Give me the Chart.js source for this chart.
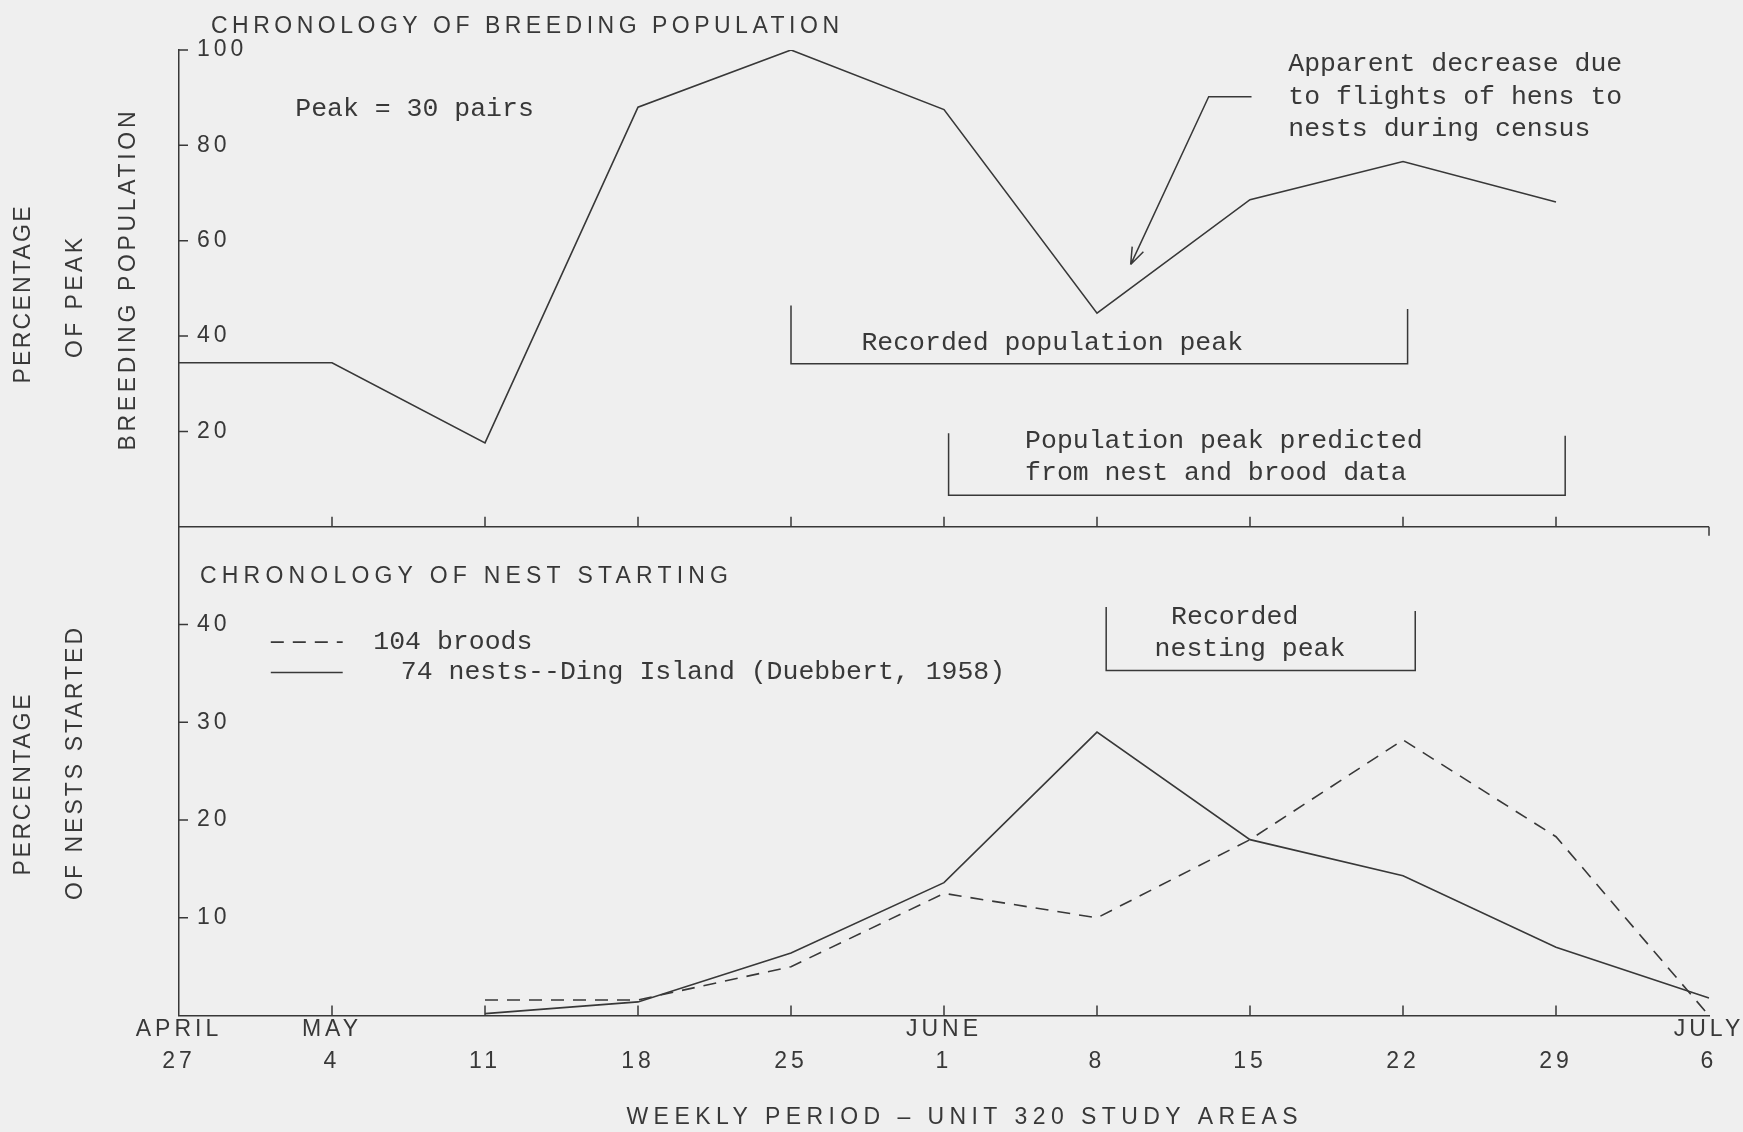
<!DOCTYPE html>
<html>
<head>
<meta charset="utf-8">
<script src="https://cdn.jsdelivr.net/npm/chart.js@4.4.1/dist/chart.umd.min.js"></script>
<style>
  html, body { margin: 0; padding: 0; background: #efefef; }
  canvas { display: block; }
</style>
</head>
<body>
<canvas id="chart" width="1743" height="1132"></canvas>
<script>
// weekly periods, april 27 .. july 6
const weekLabels = [['APRIL', '27'], ['MAY', '4'], ['', '11'], ['', '18'], ['', '25'], ['JUNE', '1'],
    ['', '8'], ['', '15'], ['', '22'], ['', '29'], ['JULY', '6']];

// top panel: percentage of peak breeding population
const breedingPct = [34.4, 34.4, 17.6, 88, 100, 87.5, 44.8, 68.6, 76.6, 68.1, null];

// bottom panel: percentage of nests started
const broodsPct = [null, null, 1.6, 1.6, 5, 12.5, 10, 18, 28.2, 18.3, 0];
const nestsPct = [null, null, 0.2, 1.4, 6.4, 13.6, 29, 18, 14.3, 7, 1.8];

const topTicks = [20, 40, 60, 80, 100];
const bottomTicks = [10, 20, 30, 40];

const INK = '#383838';
const LETTER = '"Liberation Sans", Arial, sans-serif';
const TYPE = '"Liberation Mono", "DejaVu Sans Mono", monospace';

// lettering spread out to a given width, centred on x,y
function spaced(ctx, text, cx, cy, width, size, rotate) {
    ctx.save();
    ctx.font = size + 'px ' + LETTER;
    ctx.letterSpacing = '0px';
    const w = ctx.measureText(text).width;
    ctx.letterSpacing = ((width - w) / (text.length - 1)) + 'px';
    ctx.translate(cx, cy);
    if (rotate) ctx.rotate(-Math.PI / 2);
    ctx.textAlign = 'left';
    ctx.textBaseline = 'middle';
    ctx.fillText(text, -width / 2, 0);
    ctx.restore();
}

function typed(ctx, text, x, y, align) {
    ctx.font = '26.5px ' + TYPE;
    ctx.textAlign = align || 'left';
    ctx.textBaseline = 'middle';
    ctx.fillText(text, x, y);
}

function bracket(ctx, x1, x2, top1, top2, bottom) {
    ctx.beginPath();
    ctx.moveTo(x1, top1);
    ctx.lineTo(x1, bottom);
    ctx.lineTo(x2, bottom);
    ctx.lineTo(x2, top2);
    ctx.stroke();
}

const decorations = {
    id: 'decorations',
    beforeDraw(chart) {
        chart.ctx.letterSpacing = '4px';
    },
    afterDraw(chart) {
        const { ctx, chartArea: a, scales: { x, yTop, yBot } } = chart;
        const px = v => x.getPixelForValue(v);
        ctx.save();
        ctx.letterSpacing = '0px';
        ctx.strokeStyle = INK;
        ctx.fillStyle = INK;
        ctx.lineWidth = 1.5;

        // y tick marks point inward
        ctx.beginPath();
        topTicks.forEach(t => { const y = yTop.getPixelForValue(t); ctx.moveTo(a.left, y); ctx.lineTo(a.left + 9, y); });
        bottomTicks.forEach(t => { const y = yBot.getPixelForValue(t); ctx.moveTo(a.left, y); ctx.lineTo(a.left + 9, y); });
        ctx.stroke();

        // baseline of the top panel with its week ticks
        const y0 = yTop.getPixelForValue(0);
        ctx.beginPath();
        ctx.moveTo(a.left, y0);
        ctx.lineTo(a.right, y0);
        for (let i = 1; i < weekLabels.length - 1; i++) {
            ctx.moveTo(px(i), y0);
            ctx.lineTo(px(i), y0 - 10);
        }
        ctx.moveTo(a.right, y0);
        ctx.lineTo(a.right, y0 + 9);
        // week ticks on the bottom axis
        for (let i = 1; i < weekLabels.length - 1; i++) {
            ctx.moveTo(px(i), a.bottom);
            ctx.lineTo(px(i), a.bottom - 10);
        }
        ctx.stroke();

        // lettered titles
        spaced(ctx, 'CHRONOLOGY OF BREEDING POPULATION', 525, 27, 628, 23);
        spaced(ctx, 'CHRONOLOGY OF NEST STARTING', 464, 577, 528, 23);
        spaced(ctx, 'WEEKLY PERIOD \u2013 UNIT 320 STUDY AREAS', 962, 1118, 671, 23);
        spaced(ctx, 'PERCENTAGE', 24, 295, 177, 23, true);
        spaced(ctx, 'OF PEAK', 76, 298, 120, 23, true);
        spaced(ctx, 'BREEDING POPULATION', 129, 281, 339, 23, true);
        spaced(ctx, 'PERCENTAGE', 24, 785, 181, 23, true);
        spaced(ctx, 'OF NESTS STARTED', 76, 764, 272, 23, true);

        // typed notes, top panel
        const yt = v => yTop.getPixelForValue(v);
        typed(ctx, 'Peak = 30 pairs', px(0.76), yt(87.6));
        typed(ctx, 'Apparent decrease due', px(7.25), yt(97));
        typed(ctx, 'to flights of hens to', px(7.25), yt(90.2));
        typed(ctx, 'nests during census', px(7.25), yt(83.4));

        // arrow to the june 8 dip
        const ax0 = px(7.01), ay0 = yt(90.2), ax1 = px(6.73), tipX = px(6.22), tipY = yt(55);
        ctx.beginPath();
        ctx.moveTo(ax0, ay0);
        ctx.lineTo(ax1, ay0);
        ctx.lineTo(tipX, tipY);
        const ang = Math.atan2(ay0 - tipY, ax1 - tipX);
        [-0.35, 0.35].forEach(d => {
            ctx.moveTo(tipX, tipY);
            ctx.lineTo(tipX + 18 * Math.cos(ang + d), tipY + 18 * Math.sin(ang + d));
        });
        ctx.stroke();

        bracket(ctx, px(4.0), px(8.03), yt(46.4), yt(45.7), yt(34.2));
        typed(ctx, 'Recorded population peak', px(4.46), yt(38.5));
        bracket(ctx, px(5.03), px(9.06), yt(19.6), yt(19.1), yt(6.6));
        typed(ctx, 'Population peak predicted', px(5.53), yt(18));
        typed(ctx, 'from nest and brood data', px(5.53), yt(11.3));

        // bottom panel notes and key
        const yb = v => yBot.getPixelForValue(v);
        bracket(ctx, px(6.06), px(8.08), yb(41.8), yb(41.4), yb(35.3));
        typed(ctx, 'Recorded', px(6.9), yb(40.8), 'center');
        typed(ctx, 'nesting peak', px(7.0), yb(37.5), 'center');

        chart.data.datasets.slice(1).forEach((ds, k) => {
            const ky = yb(k === 0 ? 38.2 : 35.1);
            ctx.save();
            ctx.setLineDash(ds.borderDash || []);
            ctx.lineWidth = ds.borderWidth;
            ctx.beginPath();
            ctx.moveTo(px(0.6), ky);
            ctx.lineTo(px(1.07), ky);
            ctx.stroke();
            ctx.restore();
            typed(ctx, ds.label, px(k === 0 ? 1.27 : 1.45), ky);
        });
        ctx.restore();
    }
};

const tickFont = { family: LETTER, size: 23, lineHeight: 1.4 };

new Chart(document.getElementById('chart'), {
    type: 'line',
    data: {
        labels: weekLabels,
        datasets: [
            { label: 'Breeding population', data: breedingPct, yAxisID: 'yTop', borderColor: INK, borderWidth: 1.6 },
            { label: '104 broods', data: broodsPct, yAxisID: 'yBot', borderColor: INK, borderWidth: 1.6, borderDash: [13, 9] },
            { label: '74 nests--Ding Island (Duebbert, 1958)', data: nestsPct, yAxisID: 'yBot', borderColor: INK, borderWidth: 1.6 }
        ]
    },
    options: {
        responsive: false,
        animation: false,
        layout: { padding: { left: 135, right: 34, top: 50, bottom: 64 } },
        elements: { point: { radius: 0 }, line: { tension: 0 } },
        plugins: { legend: { display: false }, tooltip: { enabled: false } },
        scales: {
            x: {
                type: 'category',
                offset: false,
                grid: { display: false },
                border: { display: true, color: INK, width: 1.5 },
                ticks: { color: INK, font: tickFont, autoSkip: false, maxRotation: 0, padding: -10 }
            },
            yBot: {
                position: 'left',
                stack: 'panels',
                stackWeight: 489,
                min: 0,
                max: 50,
                grid: { display: false },
                border: { display: true, color: INK, width: 1.5 },
                ticks: {
                    stepSize: 10, mirror: true, padding: 18, color: INK, font: tickFont,
                    callback: v => bottomTicks.includes(v) ? String(v) : ''
                }
            },
            yTop: {
                position: 'left',
                stack: 'panels',
                stackWeight: 477,
                min: 0,
                max: 100,
                grid: { display: false },
                border: { display: true, color: INK, width: 1.5 },
                ticks: {
                    stepSize: 20, mirror: true, padding: 18, color: INK, font: tickFont,
                    callback: v => topTicks.includes(v) ? String(v) : ''
                }
            }
        }
    },
    plugins: [decorations]
});
</script>
</body>
</html>
